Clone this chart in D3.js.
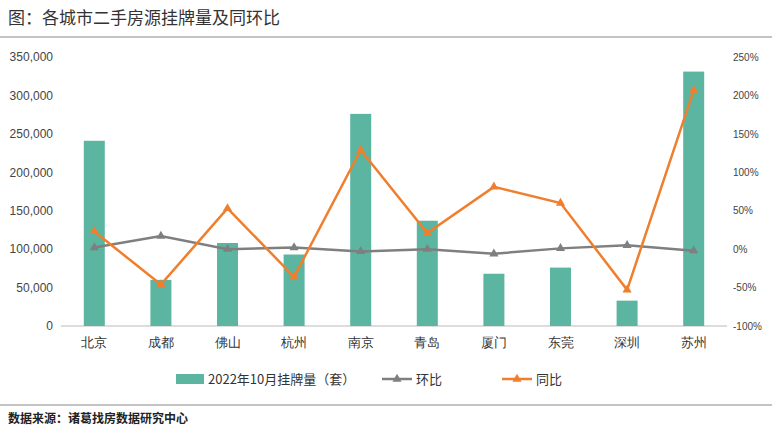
<!DOCTYPE html><html><head><meta charset="utf-8">
<script src="https://cdn.jsdelivr.net/npm/d3@7"></script>
<style>body{margin:0;background:#fff;font-family:"Noto Sans CJK SC","Noto Sans",sans-serif}</style></head><body>
<svg id="c" width="772" height="430"></svg>
<script>
const categories=["北京","成都","佛山","杭州","南京","青岛","厦门","东莞","深圳","苏州"];
const listings=[241000,60000,108000,93000,276000,137000,68000,76000,33000,331000];
const mom=[2,17,0,2,-3,0,-6,1,5,-2];
const yoy=[23,-46,53,-36,129,21,81,60,-53,207];
const leftTicks=[0,50000,100000,150000,200000,250000,300000,350000];
const rightTicks=[-100,-50,0,50,100,150,200,250];
const svg=d3.select("#c");
const barC="#5bb5a0",grayC="#7f7f7f",orC="#f07f2d";
svg.append("text").attr("x",8).attr("y",24).attr("font-size",17).attr("fill","#333").text("图：各城市二手房源挂牌量及同环比");
svg.append("line").attr("x1",0).attr("x2",772).attr("y1",37).attr("y2",37).attr("stroke","#888");
svg.append("line").attr("x1",0).attr("x2",772).attr("y1",405).attr("y2",405).attr("stroke","#888");
svg.append("text").attr("x",8).attr("y",423).attr("font-size",12).attr("font-weight","bold").attr("fill","#222").text("数据来源：诸葛找房数据研究中心");
const x=d3.scaleBand().domain(categories).range([61,727]);
const yl=d3.scaleLinear().domain([0,350000]).range([326,57]);
const yr=d3.scaleLinear().domain([-100,250]).range([326,57]);
const la=svg.append("g").attr("transform","translate(61,0)").call(d3.axisLeft(yl).tickValues(leftTicks).tickSize(0).tickPadding(8));
la.select(".domain").remove();
const ra=svg.append("g").attr("transform","translate(727,0)").call(d3.axisRight(yr).tickValues(rightTicks).tickFormat(d=>d+"%").tickSize(0).tickPadding(6));
ra.select(".domain").remove();
la.selectAll("text").attr("font-size",12).attr("fill","#444").attr("font-family","Liberation Sans");
ra.selectAll("text").attr("font-size",10).attr("fill","#444").attr("font-family","Liberation Sans");
svg.append("line").attr("x1",61).attr("x2",727).attr("y1",326).attr("y2",326).attr("stroke","#bbb");
const xa=svg.append("g").attr("transform","translate(0,326)").call(d3.axisBottom(x).tickSize(0).tickPadding(12));
xa.select(".domain").remove();xa.selectAll("text").attr("font-size",13).attr("fill","#333");
const bw=21;
svg.selectAll(".b").data(listings).join("rect").attr("x",(d,i)=>x(categories[i])+x.bandwidth()/2-bw/2).attr("width",bw).attr("y",d=>yl(d)).attr("height",d=>326-yl(d)).attr("fill",barC);
const cx=i=>x(categories[i])+x.bandwidth()/2;
const line=d3.line().x((d,i)=>cx(i)).y(d=>yr(d));
svg.append("path").datum(mom).attr("d",line).attr("fill","none").attr("stroke",grayC).attr("stroke-width",2.5);
svg.append("path").datum(yoy).attr("d",line).attr("fill","none").attr("stroke",orC).attr("stroke-width",2.5);
const tri=d3.symbol().type(d3.symbolTriangle).size(36);
svg.selectAll(".m").data(mom).join("path").attr("d",tri).attr("transform",(d,i)=>`translate(${cx(i)},${yr(d)})`).attr("fill",grayC);
svg.selectAll(".y").data(yoy).join("path").attr("d",tri).attr("transform",(d,i)=>`translate(${cx(i)},${yr(d)})`).attr("fill",orC);
const lg=svg.append("g").attr("font-size",13).attr("fill","#333");
lg.append("rect").attr("x",176).attr("y",374).attr("width",28).attr("height",10).attr("fill",barC);
lg.append("text").attr("x",208).attr("y",384).text("2022年10月挂牌量（套）");
lg.append("line").attr("x1",382).attr("x2",412).attr("y1",379).attr("y2",379).attr("stroke",grayC).attr("stroke-width",2.5);
lg.append("path").attr("d",tri).attr("transform","translate(397,379)").attr("fill",grayC);
lg.append("text").attr("x",416).attr("y",384).text("环比");
lg.append("line").attr("x1",502).attr("x2",532).attr("y1",379).attr("y2",379).attr("stroke",orC).attr("stroke-width",2.5);
lg.append("path").attr("d",tri).attr("transform","translate(517,379)").attr("fill",orC);
lg.append("text").attr("x",536).attr("y",384).text("同比");
</script></body></html>
